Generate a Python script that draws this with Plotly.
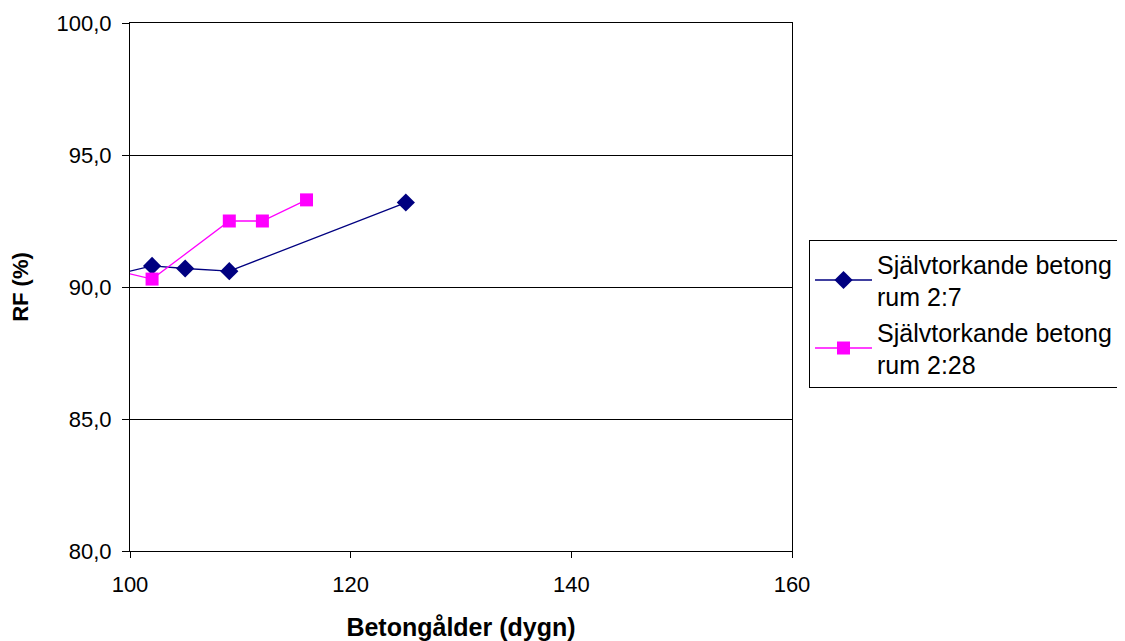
import plotly.graph_objects as go

# Data
age_rum27 = [98, 102, 105, 109, 125]
rf_rum27 = [90.4, 90.8, 90.7, 90.6, 93.2]
age_rum228 = [98, 102, 109, 112, 116]
rf_rum228 = [90.7, 90.3, 92.5, 92.5, 93.3]
name_rum27 = "Självtorkande betong<br>rum 2:7"
name_rum228 = "Självtorkande betong<br>rum 2:28"
x_ticks = [100, 120, 140, 160]
y_ticks = [80, 85, 90, 95, 100]

FONT = "Liberation Sans, Arial, sans-serif"

fig = go.Figure()
fig.add_trace(go.Scatter(
    x=age_rum27, y=rf_rum27, name=name_rum27, mode="lines+markers",
    line=dict(color="#000080", width=1.3),
    marker=dict(symbol="diamond", size=14, color="#000080"),
))
fig.add_trace(go.Scatter(
    x=age_rum228, y=rf_rum228, name=name_rum228, mode="lines+markers",
    line=dict(color="#FF00FF", width=1.3),
    marker=dict(symbol="square", size=13, color="#FF00FF"),
))

fig.update_layout(
    width=1125, height=641,
    margin=dict(l=122, r=341, t=15, b=98),
    paper_bgcolor="white", plot_bgcolor="white",
    separators=", ",
    font=dict(family=FONT, size=22, color="black"),
    showlegend=True,
    legend=dict(
        x=1.0257, y=0.589, xanchor="left", yanchor="top",
        bgcolor="white", bordercolor="black", borderwidth=1,
        font=dict(family=FONT, size=25, color="black"),
        tracegroupgap=0, itemwidth=57,
    ),
    xaxis=dict(
        range=[100, 160], tickvals=x_ticks, automargin=False,
        showgrid=False, zeroline=False,
        showline=True, linecolor="black", linewidth=1, mirror=True,
        ticks="outside", ticklen=6, tickcolor="black",
        ticklabelstandoff=8,
        tickfont=dict(family=FONT, size=22),
        title=dict(text="<b>Betongålder (dygn)</b>", font=dict(family=FONT, size=25), standoff=22),
    ),
    yaxis=dict(
        range=[80, 100], tickvals=y_ticks, tickformat=".1f", automargin=False,
        showgrid=True, gridcolor="black", gridwidth=1, zeroline=False,
        showline=True, linecolor="black", linewidth=1, mirror=True,
        ticks="outside", ticklen=7, tickcolor="black",
        ticklabelstandoff=6,
        tickfont=dict(family=FONT, size=22),
        title=dict(text="<b>RF (%)</b>", font=dict(family=FONT, size=22), standoff=22),
    ),
)

fig.write_html("out.html")
